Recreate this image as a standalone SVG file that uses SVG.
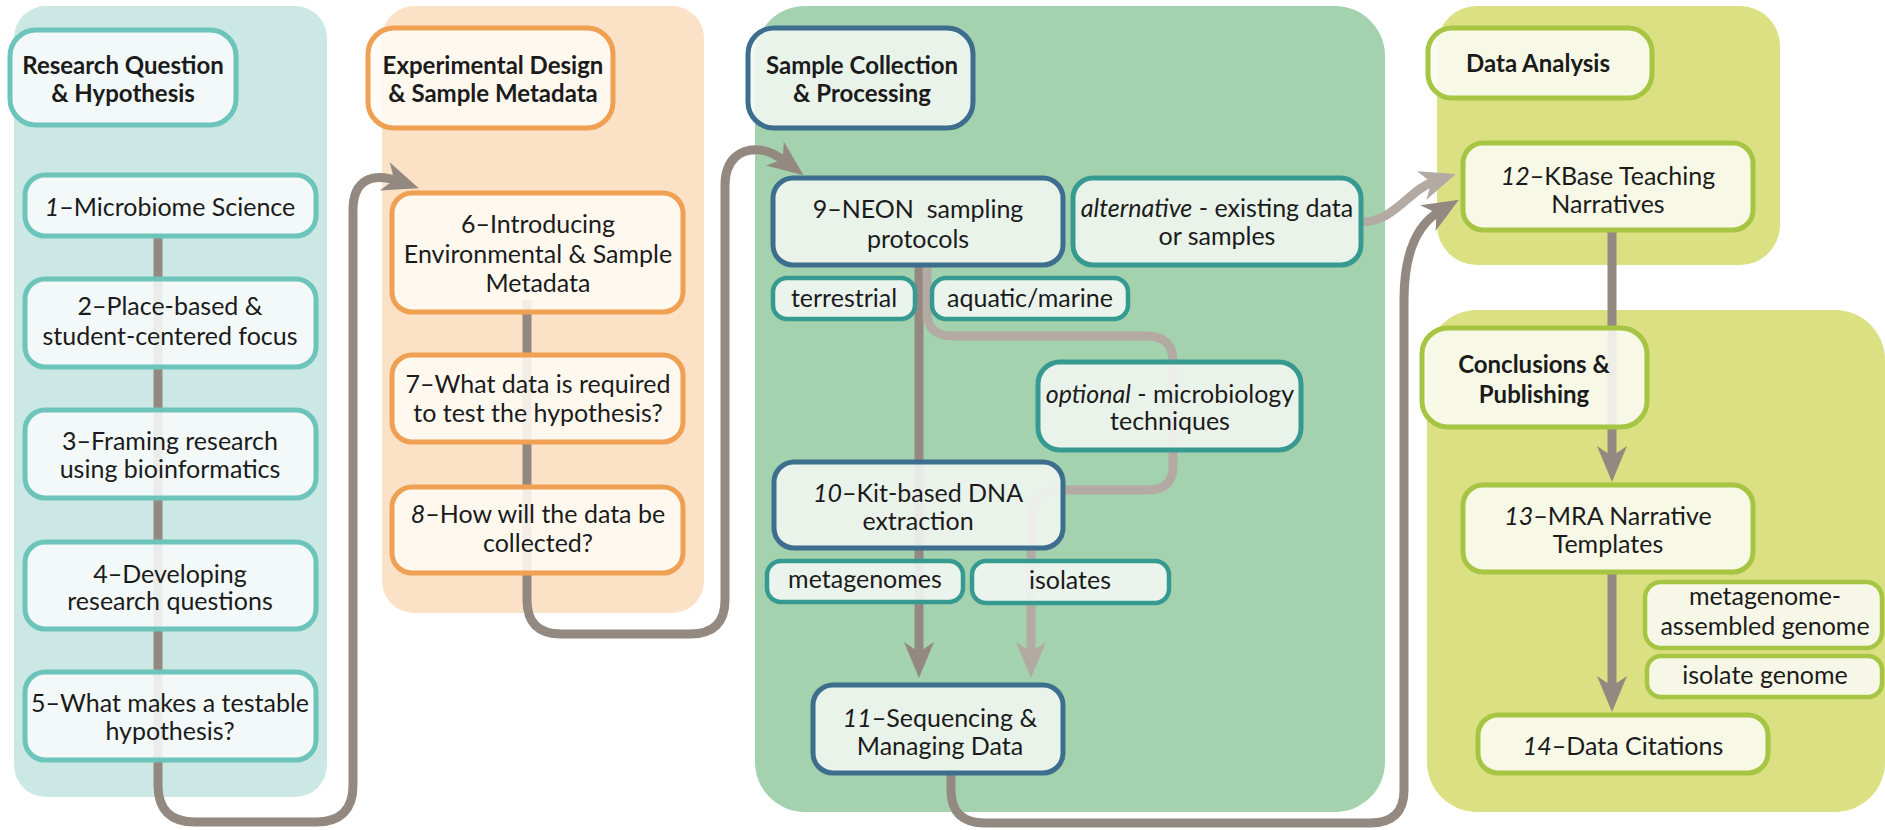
<svg xmlns="http://www.w3.org/2000/svg" width="1885" height="830" viewBox="0 0 1885 830">
  <defs>
    <style>
      .t { font-family: Lato, "Open Sans", "Liberation Sans", sans-serif; font-size: 25px; fill: #1b1b1b; text-anchor: middle; }
      .h { font-weight: 700; font-size: 24px; }
      .i { font-style: italic; }
      .box { stroke-width: 5; fill-opacity: 0.88; }
      .lab { stroke-width: 4.5; fill-opacity: 0.9; }
      .teal { stroke: #6cc4bb; fill: #f7fbfb; }
      .orange { stroke: #efa052; fill: #fffaf5; }
      .navy { stroke: #3d6e8d; fill: #f2f7f3; }
      .sea { stroke: #379a90; fill: #f2f7f3; }
      .lime { stroke: #a6c543; fill: #fafaf2; }
      .conn { fill: none; stroke-width: 9; }
      .dark { stroke: #938980; }
      .light { stroke: #b4aaa4; }
    </style>
    <marker id="ah-dark" markerUnits="userSpaceOnUse" viewBox="-16 -16 40 32" markerWidth="40" markerHeight="32" refX="0" refY="0" orient="auto">
      <path d="M22,0 L-14,-15 L-4,0 L-14,15 Z" fill="#938980"/>
    </marker>
    <marker id="ah-light" markerUnits="userSpaceOnUse" viewBox="-16 -16 40 32" markerWidth="40" markerHeight="32" refX="0" refY="0" orient="auto">
      <path d="M22,0 L-14,-15 L-4,0 L-14,15 Z" fill="#b4aaa4"/>
    </marker>
  </defs>

  <!-- stage backgrounds -->
  <g id="panels">
    <rect x="14" y="6" width="313" height="791" rx="32" fill="#cbe8e4"/>
    <rect x="382" y="6" width="322" height="607" rx="32" fill="#fbe1c6"/>
    <rect x="755" y="6" width="630" height="806" rx="50" fill="#a4d2ae"/>
    <rect x="1437" y="6" width="343" height="259" rx="40" fill="#dbe183"/>
    <rect x="1427" y="310" width="458" height="502" rx="50" fill="#dbe183"/>
  </g>

  <!-- connectors -->
  <g id="connectors">
    <path class="conn dark" d="M158,237 V785 Q158,822 195,822 H316 Q353,822 353,785 V210 C353,180 372,172 398,181" marker-end="url(#ah-dark)"/>
    <path class="conn dark" d="M527,300 V600 Q527,634 561,634 H690 Q725,634 725,600 V185 C725,160 740,148 760,150 C770,151 778,156 786,162" marker-end="url(#ah-dark)"/>
    <path class="conn dark" d="M919,262 V656" marker-end="url(#ah-dark)"/>
    <path class="conn light" d="M927,262 V312 Q927,336 953,336 H1147 Q1173,336 1173,362 V466 Q1173,490 1148,490 H1058 Q1031,492 1031,520 V656" marker-end="url(#ah-light)"/>
    <path class="conn dark" d="M951,771 V790 Q951,823 985,823 H1370 Q1404,823 1404,790 V300 C1404,250 1418,224 1440,211" marker-end="url(#ah-dark)"/>
    <path class="conn light" d="M1361,222 C1395,222 1408,190 1435,181" marker-end="url(#ah-light)"/>
    <path class="conn dark" d="M1612,230 V460" marker-end="url(#ah-dark)"/>
    <path class="conn dark" d="M1612,572 V690" marker-end="url(#ah-dark)"/>
  </g>

  <!-- Research Question & Hypothesis -->
  <g id="h-research">
    <rect class="box teal" x="10" y="30" width="226" height="95" rx="26"/>
    <text class="t h" x="123" y="74">Research Question</text>
    <text class="t h" x="123" y="102">&amp; Hypothesis</text>
  </g>
  <g id="n1">
    <rect class="box teal" x="25" y="175" width="291" height="61" rx="20"/>
    <text class="t" x="170" y="216"><tspan class="i">1</tspan>–Microbiome Science</text>
  </g>
  <g id="n2">
    <rect class="box teal" x="25" y="279" width="291" height="88" rx="20"/>
    <text class="t" x="170" y="315">2–Place-based &amp;</text>
    <text class="t" x="170" y="345">student-centered focus</text>
  </g>
  <g id="n3">
    <rect class="box teal" x="25" y="410" width="291" height="88" rx="20"/>
    <text class="t" x="170" y="450">3–Framing research</text>
    <text class="t" x="170" y="478">using bioinformatics</text>
  </g>
  <g id="n4">
    <rect class="box teal" x="25" y="542" width="291" height="87" rx="20"/>
    <text class="t" x="170" y="583">4–Developing</text>
    <text class="t" x="170" y="610">research questions</text>
  </g>
  <g id="n5">
    <rect class="box teal" x="25" y="672" width="291" height="88" rx="20"/>
    <text class="t" x="170" y="712">5–What makes a testable</text>
    <text class="t" x="170" y="740">hypothesis?</text>
  </g>

  <!-- Experimental Design & Sample Metadata -->
  <g id="h-design">
    <rect class="box orange" x="368" y="28" width="245" height="100" rx="26"/>
    <text class="t h" x="493" y="74">Experimental Design</text>
    <text class="t h" x="493" y="102">&amp; Sample Metadata</text>
  </g>
  <g id="n6">
    <rect class="box orange" x="392" y="193" width="291" height="119" rx="20"/>
    <text class="t" x="538" y="233">6–Introducing</text>
    <text class="t" x="538" y="263">Environmental &amp; Sample</text>
    <text class="t" x="538" y="292">Metadata</text>
  </g>
  <g id="n7">
    <rect class="box orange" x="392" y="355" width="291" height="87" rx="20"/>
    <text class="t" x="538" y="393">7–What data is required</text>
    <text class="t" x="538" y="422">to test the hypothesis?</text>
  </g>
  <g id="n8">
    <rect class="box orange" x="392" y="487" width="291" height="86" rx="20"/>
    <text class="t" x="538" y="523"><tspan class="i">8</tspan>–How will the data be</text>
    <text class="t" x="538" y="552">collected?</text>
  </g>

  <!-- Sample Collection & Processing -->
  <g id="h-collection">
    <rect class="box navy" x="748" y="28" width="225" height="100" rx="26"/>
    <text class="t h" x="862" y="74">Sample Collection</text>
    <text class="t h" x="862" y="102">&amp; Processing</text>
  </g>
  <g id="n9">
    <rect class="box navy" x="773" y="178" width="290" height="87" rx="20"/>
    <text class="t" x="918" y="218" xml:space="preserve">9–NEON  sampling</text>
    <text class="t" x="918" y="248">protocols</text>
  </g>
  <g id="alt">
    <rect class="box sea" x="1073" y="178" width="288" height="87" rx="20"/>
    <text class="t" x="1217" y="217"><tspan class="i">alternative</tspan> - existing data</text>
    <text class="t" x="1217" y="245">or samples</text>
  </g>
  <g id="terrestrial">
    <rect class="lab sea" x="773" y="278" width="142" height="41" rx="14"/>
    <text class="t" x="844" y="307">terrestrial</text>
  </g>
  <g id="aquatic">
    <rect class="lab sea" x="932" y="278" width="196" height="41" rx="14"/>
    <text class="t" x="1030" y="307">aquatic/marine</text>
  </g>
  <g id="optional">
    <rect class="box sea" x="1038" y="362" width="263" height="88" rx="22"/>
    <text class="t" x="1170" y="403"><tspan class="i">optional</tspan> - microbiology</text>
    <text class="t" x="1170" y="430">techniques</text>
  </g>
  <g id="n10">
    <rect class="box navy" x="774" y="462" width="289" height="86" rx="20"/>
    <text class="t" x="918" y="502"><tspan class="i">10</tspan>–Kit-based DNA</text>
    <text class="t" x="918" y="530">extraction</text>
  </g>
  <g id="metagenomes">
    <rect class="lab sea" x="767" y="561" width="196" height="41" rx="14"/>
    <text class="t" x="865" y="588">metagenomes</text>
  </g>
  <g id="isolates">
    <rect class="lab sea" x="972" y="561" width="197" height="42" rx="14"/>
    <text class="t" x="1070" y="589">isolates</text>
  </g>
  <g id="n11">
    <rect class="box navy" x="813" y="685" width="250" height="88" rx="20"/>
    <text class="t" x="940" y="727"><tspan class="i">11</tspan>–Sequencing &amp;</text>
    <text class="t" x="940" y="755">Managing Data</text>
  </g>

  <!-- Data Analysis -->
  <g id="h-analysis">
    <rect class="box lime" x="1428" y="28" width="224" height="70" rx="24"/>
    <text class="t h" x="1538" y="72">Data Analysis</text>
  </g>
  <g id="n12">
    <rect class="box lime" x="1463" y="143" width="290" height="87" rx="20"/>
    <text class="t" x="1608" y="185"><tspan class="i">12</tspan>–KBase Teaching</text>
    <text class="t" x="1608" y="213">Narratives</text>
  </g>

  <!-- Conclusions & Publishing -->
  <g id="h-conclusions">
    <rect class="box lime" x="1422" y="328" width="225" height="99" rx="26"/>
    <text class="t h" x="1534" y="373">Conclusions &amp;</text>
    <text class="t h" x="1534" y="403">Publishing</text>
  </g>
  <g id="n13">
    <rect class="box lime" x="1463" y="485" width="290" height="87" rx="20"/>
    <text class="t" x="1608" y="525"><tspan class="i">13</tspan>–MRA Narrative</text>
    <text class="t" x="1608" y="553">Templates</text>
  </g>
  <g id="mag">
    <rect class="lab lime" x="1645" y="582" width="237" height="66" rx="16"/>
    <text class="t" x="1765" y="605">metagenome-</text>
    <text class="t" x="1765" y="635">assembled genome</text>
  </g>
  <g id="isolate-genome">
    <rect class="lab lime" x="1647" y="656" width="235" height="41" rx="14"/>
    <text class="t" x="1765" y="684">isolate genome</text>
  </g>
  <g id="n14">
    <rect class="box lime" x="1478" y="715" width="290" height="58" rx="20"/>
    <text class="t" x="1623" y="755"><tspan class="i">14</tspan>–Data Citations</text>
  </g>
</svg>
